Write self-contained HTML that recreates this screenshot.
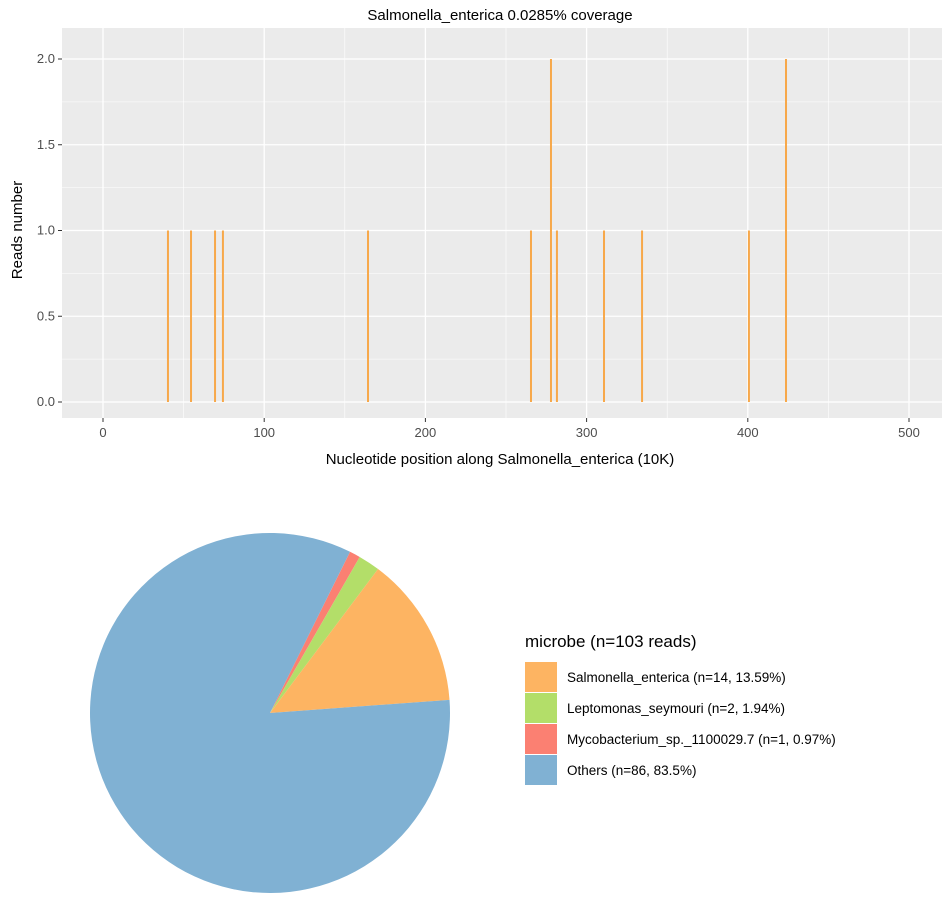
<!DOCTYPE html>
<html><head><meta charset="utf-8"><style>
body{margin:0;background:#fff;font-family:"Liberation Sans",sans-serif}
svg text{font-family:"Liberation Sans",sans-serif}
</style></head><body>
<svg id="s" width="944" height="903" xmlns="http://www.w3.org/2000/svg">
<text x="500" y="20" text-anchor="middle" font-size="15" fill="#000">Salmonella_enterica 0.0285% coverage</text>
<rect x="62" y="28" width="880" height="390" fill="#ebebeb"/>
<g id="grid"></g><g id="bars"></g><g id="axes"></g>
<text x="500" y="464" text-anchor="middle" font-size="15" fill="#000">Nucleotide position along Salmonella_enterica (10K)</text>
<text transform="translate(22,230) rotate(-90)" text-anchor="middle" font-size="15" fill="#000">Reads number</text>
<g id="pie"></g>
<text x="525" y="647" font-size="17" fill="#000">microbe (n=103 reads)</text>
<g id="legend"></g>
</svg>
<script>
const positions=[40.3,54.6,69.5,74.4,164.4,265.5,277.9,281.6,310.8,334.4,400.7,423.7];
const reads=[1,1,1,1,1,1,2,1,1,1,1,2];
const xTicks=[0,100,200,300,400,500];
const yTicks=[0,0.5,1,1.5,2];
const yTickLabels=["0.0","0.5","1.0","1.5","2.0"];
const pieLabels=["Mycobacterium_sp._1100029.7 (n=1, 0.97%)","Leptomonas_seymouri (n=2, 1.94%)","Salmonella_enterica (n=14, 13.59%)","Others (n=86, 83.5%)"];
const pieCounts=[1,2,14,86];
const pieColors=["#FB8072","#B3DE69","#FDB462","#80B1D3"];
const legendOrder=[2,1,0,3];
const NS="http://www.w3.org/2000/svg";
function mk(t,a,p){const e=document.createElementNS(NS,t);for(const k in a)e.setAttribute(k,a[k]);p.appendChild(e);return e;}
const X=v=>103+v*1.612, Y=v=>402-v*171.5;
const g=document.getElementById('grid'),b=document.getElementById('bars'),ax=document.getElementById('axes');
for(let i=0;i<xTicks.length;i++){
 const l=mk('line',{x1:X(xTicks[i]),x2:X(xTicks[i]),y1:28,y2:418,stroke:'#fff','stroke-width':1.3},g);
 
 if(i<xTicks.length-1){const m=(xTicks[i]+xTicks[i+1])/2;const l2=mk('line',{x1:X(m),x2:X(m),y1:28,y2:418,stroke:'#fff','stroke-width':0.6},g);
 }
 mk('line',{x1:X(xTicks[i]),x2:X(xTicks[i]),y1:418,y2:422,stroke:'#333'},ax);
 const t=mk('text',{x:X(xTicks[i]),y:437,'text-anchor':'middle','font-size':13,fill:'#4d4d4d'},ax);t.textContent=xTicks[i];
 
}
for(let i=0;i<yTicks.length;i++){
 const l=mk('line',{x1:62,x2:942,y1:Y(yTicks[i]),y2:Y(yTicks[i]),stroke:'#fff','stroke-width':1.3},g);
 
 if(i<yTicks.length-1){const m=(yTicks[i]+yTicks[i+1])/2;const l2=mk('line',{x1:62,x2:942,y1:Y(m),y2:Y(m),stroke:'#fff','stroke-width':0.6},g);
 }
 mk('line',{x1:58,x2:62,y1:Y(yTicks[i]),y2:Y(yTicks[i]),stroke:'#333'},ax);
 const t=mk('text',{x:55,y:Y(yTicks[i])+4,'text-anchor':'end','font-size':13,fill:'#4d4d4d'},ax);t.textContent=yTickLabels[i];
 
}
for(let i=0;i<positions.length;i++){
 const l=mk('line',{x1:X(positions[i]),x2:X(positions[i]),y1:Y(0),y2:Y(reads[i]),stroke:'#F7A84A','stroke-width':2},b);
 
}
const pie=document.getElementById('pie');const cx=270,cy=713,R=180;
const total=pieCounts.reduce((a,c)=>a+c,0);let ang=26.4;
for(let i=0;i<pieCounts.length;i++){
 const a0=ang,a1=ang+pieCounts[i]/total*360;ang=a1;
 const r=d=>d*Math.PI/180;
 const p0=[cx+R*Math.sin(r(a0)),cy-R*Math.cos(r(a0))],p1=[cx+R*Math.sin(r(a1)),cy-R*Math.cos(r(a1))];
 const large=(a1-a0)>180?1:0;
 const s=mk('path',{d:`M${cx},${cy}L${p0[0]},${p0[1]}A${R},${R} 0 ${large} 1 ${p1[0]},${p1[1]}Z`,fill:pieColors[i]},pie);
 
}
const lg=document.getElementById('legend');
legendOrder.forEach((k,j)=>{
 const y=662+j*31;
 const r=mk('rect',{x:525,y:y,width:32,height:30,fill:pieColors[k]},lg);
 
 const t=mk('text',{x:567,y:y+20,'font-size':13.5,fill:'#000'},lg);t.textContent=pieLabels[k];
 
});
</script>
</body></html>
